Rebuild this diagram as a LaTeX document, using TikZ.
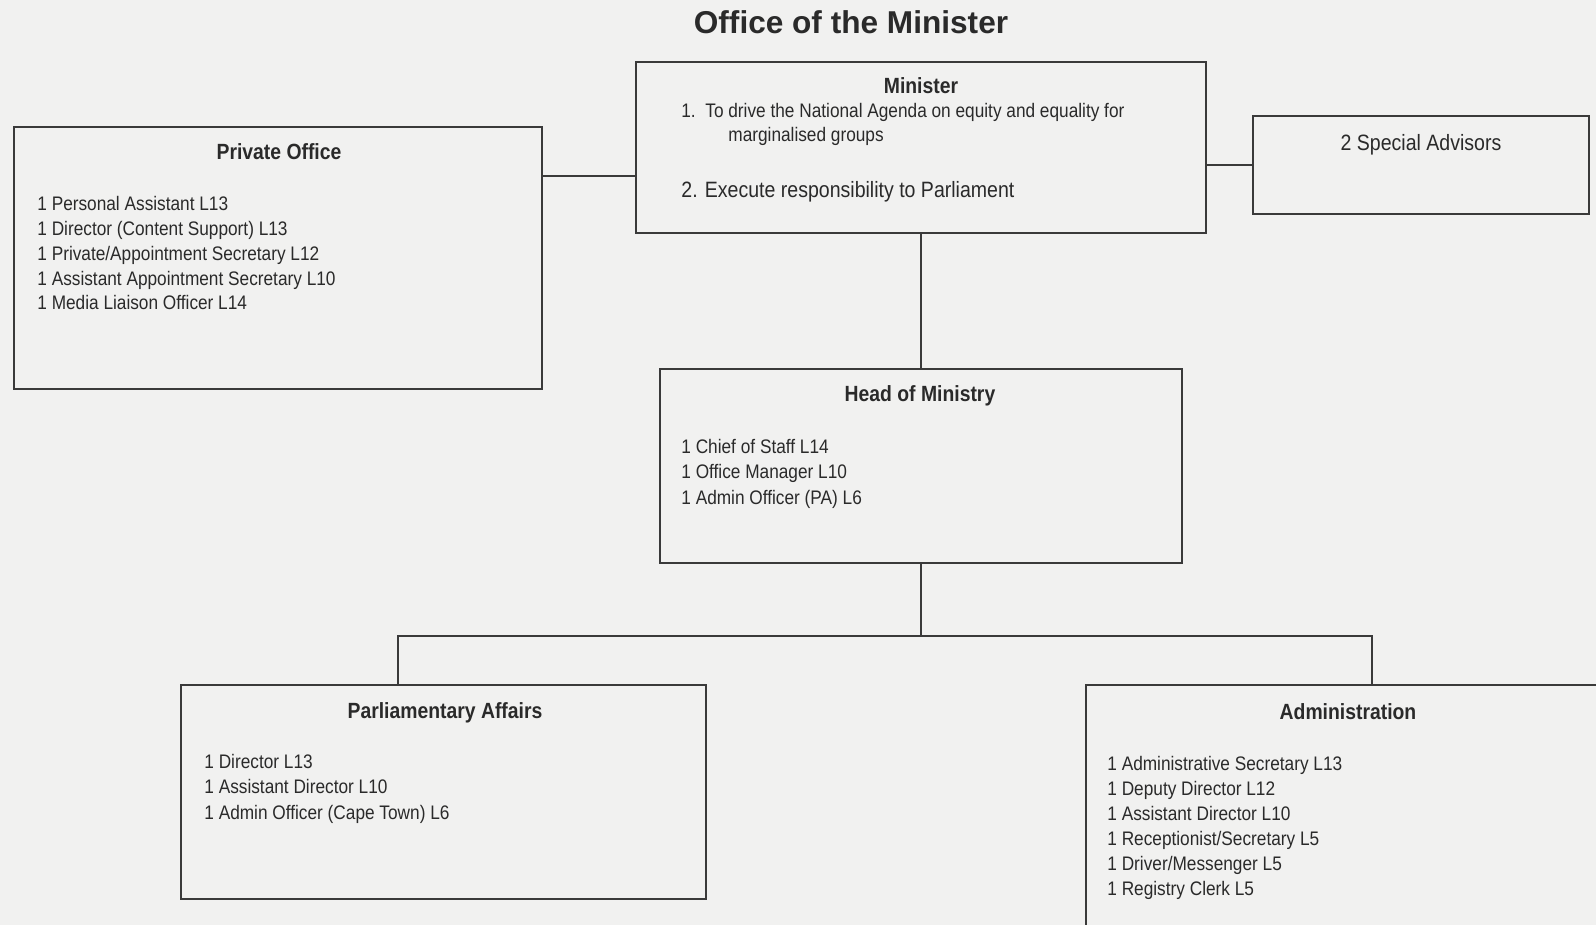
\documentclass[tikz,border=0pt]{standalone}
\usepackage{fontspec}
\setmainfont{Liberation Sans}
\newfontfamily\nar[FakeStretch=0.88]{Liberation Sans}
\definecolor{paper}{HTML}{F1F1F0}
\definecolor{ink}{HTML}{2A2A2A}
\definecolor{linec}{HTML}{3A3A3A}
\tikzset{
  box/.style={draw=linec, line width=1pt, inner sep=0pt},
  body/.style={font=\nar\fontsize{9.8}{12}\selectfont, text=ink, inner sep=0pt, anchor=west, text height=7pt, text depth=0pt},
  bigitem/.style={font=\nar\fontsize{11.1}{13}\selectfont, text=ink, inner sep=0pt, text height=8pt, text depth=0pt},
  head/.style={font=\nar\bfseries\fontsize{11}{13}\selectfont, text=ink, inner sep=0pt, text height=7.9pt, text depth=0pt},
  conn/.style={draw=linec, line width=1pt}
}
\begin{document}
\begin{tikzpicture}[x=0.5pt,y=-0.5pt]
\useasboundingbox (0,0) rectangle (1596,925);
\fill[paper] (0,0) rectangle (1596,925);
\clip (0,0) rectangle (1596,925);

\node[font=\bfseries\fontsize{15.8}{18}\selectfont, text=ink, inner sep=0pt, text height=11.4pt, text depth=0pt] (title) at (851,22) {Office of the Minister};

% boxes
\node[box, minimum width=264pt, minimum height=131pt] (po) at (278,258) {};
\node[box, minimum width=285pt, minimum height=85.5pt] (min) at (921,147.5) {};
\node[box, minimum width=168pt, minimum height=49pt] (sa) at (1421,165) {};
\node[box, minimum width=261pt, minimum height=97pt] (hom) at (921,466) {};
\node[box, minimum width=262.5pt, minimum height=107pt] (pa) at (443.5,792) {};
\node[box, minimum width=262pt, minimum height=127.5pt] (adm) at (1348,812.5) {};

% connectors
\draw[conn] (po.east |- 0,176) -- (min.west |- 0,176);
\draw[conn] (min.east |- sa.west) -- (sa.west);
\draw[conn] (min.south) -- (hom.north);
\coordinate (bus) at (921,636);
\draw[conn] (hom.south) -- (bus);
\draw[conn] (pa.north -| 398,0) |- (bus) -| (adm.north -| 1372,0);

% Minister
\node[head] (minT) at (921,85.5) {Minister};
\node[body] (min1n) at (681,111) {1.};
\node[body] (min1) at (705,111) {To drive the National Agenda on equity and equality for};
\node[body] (min1b) at (728,135) {marginalised groups};
\node[bigitem, anchor=west] (min2) at (681,190) {2. Execute responsibility to Parliament};

% Special advisors
\node[bigitem] (saT) at (1421,142.5) {2 Special Advisors};

% Private office
\node[head] (poT) at (279,152) {Private Office};
\foreach \t [count=\i] in {1 Personal Assistant L13, 1 Director (Content Support) L13, 1 Private/Appointment Secretary L12, 1 Assistant Appointment Secretary L10, 1 Media Liaison Officer L14}
  \node[body] (po\i) at (37,{204+24.75*(\i-1)}) {\t};

% Head of Ministry
\node[head] (homT) at (920,394) {Head of Ministry};
\foreach \t [count=\i] in {1 Chief of Staff L14, 1 Office Manager L10, 1 Admin Officer (PA) L6}
  \node[body] (hom\i) at (681,{446+25.5*(\i-1)}) {\t};

% Parliamentary Affairs
\node[head] (paT) at (445,710.5) {Parliamentary Affairs};
\foreach \t [count=\i] in {1 Director L13, 1 Assistant Director L10, 1 Admin Officer (Cape Town) L6}
  \node[body] (pa\i) at (204,{761+25.5*(\i-1)}) {\t};

% Administration
\node[head] (admT) at (1348,711.5) {Administration};
\foreach \t [count=\i] in {1 Administrative Secretary L13, 1 Deputy Director L12, 1 Assistant Director L10, 1 Receptionist/Secretary L5, 1 Driver/Messenger L5, 1 Registry Clerk L5}
  \node[body] (adm\i) at (1107,{763+25*(\i-1)}) {\t};
\end{tikzpicture}
\end{document}
